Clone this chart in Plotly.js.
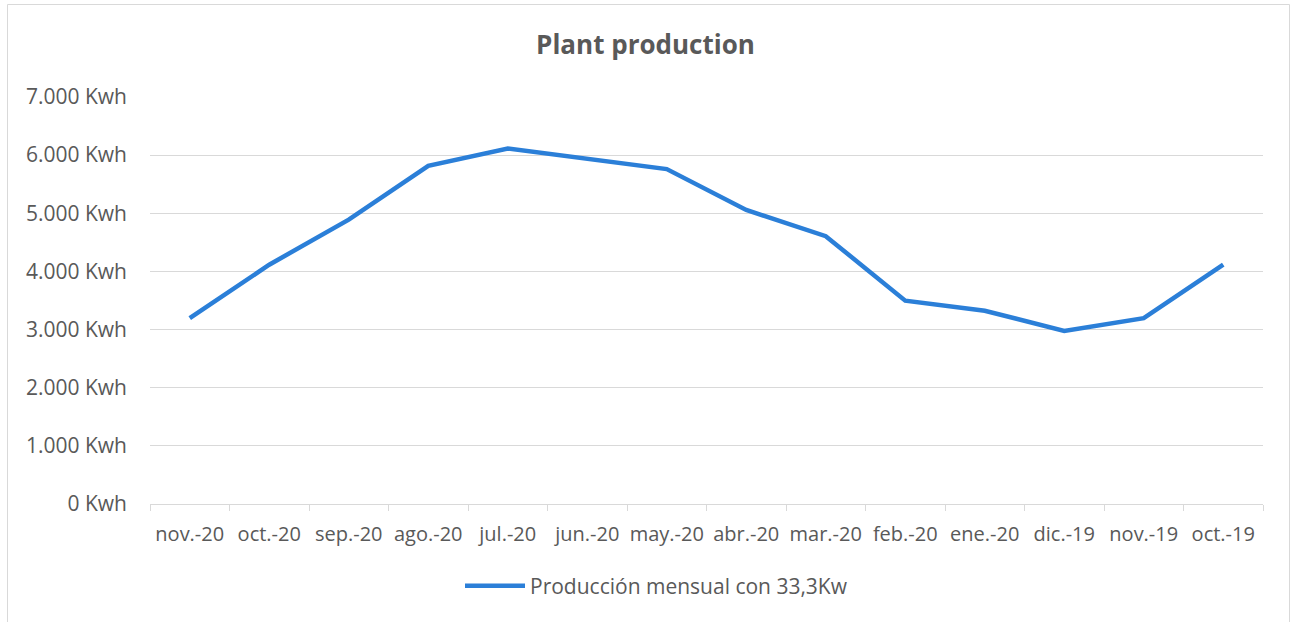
<!DOCTYPE html>
<html>
<head>
<meta charset="utf-8">
<script src="https://cdn.plot.ly/plotly-3.0.1.min.js"></script>
<style>html,body{margin:0;padding:0;background:#fff;}#chart{width:1291px;height:622px;}</style>
</head>
<body>
<div id="chart"></div>
<script>
const months = ["nov.-20","oct.-20","sep.-20","ago.-20","jul.-20","jun.-20","may.-20","abr.-20","mar.-20","feb.-20","ene.-20","dic.-19","nov.-19","oct.-19"];
const production = [3196, 4116, 4890, 5816, 6113, 5940, 5760, 5058, 4607, 3497, 3324, 2977, 3196, 4116];
const seriesName = "Producción mensual con 33,3Kw";
const yTicks = [0, 1000, 2000, 3000, 4000, 5000, 6000, 7000];
const yTickText = ["0 Kwh", "1.000 Kwh", "2.000 Kwh", "3.000 Kwh", "4.000 Kwh", "5.000 Kwh", "6.000 Kwh", "7.000 Kwh"];

const L = 150, R = 1263, T = 97, B = 504, W = 1291, H = 622;
const pw = R - L, ph = B - T;
const fontFam = "'Open Sans', 'Noto Sans', sans-serif";
const grey = "#595959";

const trace = {
  type: "scatter",
  mode: "lines",
  x: months,
  y: production,
  name: seriesName,
  line: {color: "#2b7fd8", width: 4.5},
  hoverinfo: "x+y"
};

const layout = {
  width: W, height: H,
  margin: {l: L, r: W - R, t: T, b: H - B, pad: 0},
  paper_bgcolor: "#ffffff",
  plot_bgcolor: "#ffffff",
  title: {
    text: "<b>Plant production</b>",
    font: {family: fontFam, size: 26, color: grey},
    x: 0.5, xanchor: "center",
    y: 1 - 45/H, yanchor: "middle"
  },
  xaxis: {
    type: "category",
    range: [-0.5, months.length - 0.5],
    tickson: "boundaries",
    ticks: "outside",
    ticklen: 6,
    tickcolor: "#d9d9d9",
    tickwidth: 1,
    tickangle: 0,
    showline: true,
    linecolor: "#d9d9d9",
    linewidth: 1,
    showgrid: false,
    tickfont: {family: fontFam, size: 20, color: grey},
    ticklabelstandoff: 12,
    fixedrange: true
  },
  yaxis: {
    range: [0, 7000],
    tickmode: "array",
    tickvals: yTicks,
    ticktext: yTickText,
    showgrid: true,
    gridcolor: "#d9d9d9",
    gridwidth: 1,
    zeroline: false,
    showline: false,
    ticks: "",
    tickfont: {family: fontFam, size: 21, color: grey},
    ticklabelstandoff: 22,
    fixedrange: true
  },
  showlegend: true,
  legend: {
    orientation: "h",
    x: 0.5 - 50 / pw, xanchor: "center",
    y: -(586 - B) / ph, yanchor: "middle",
    font: {family: fontFam, size: 21, color: grey},
    itemwidth: 60
  },
  shapes: [{
    type: "rect", xref: "paper", yref: "paper",
    x0: (7.5 - L) / pw, x1: (1289.5 - L) / pw,
    y0: (B - 640) / ph, y1: (B - 4.5) / ph,
    line: {color: "#d9d9d9", width: 1},
    fillcolor: "rgba(0,0,0,0)",
    layer: "below"
  }]
};

Plotly.newPlot("chart", [trace], layout, {displayModeBar: false, staticPlot: true});
</script>
</body>
</html>
